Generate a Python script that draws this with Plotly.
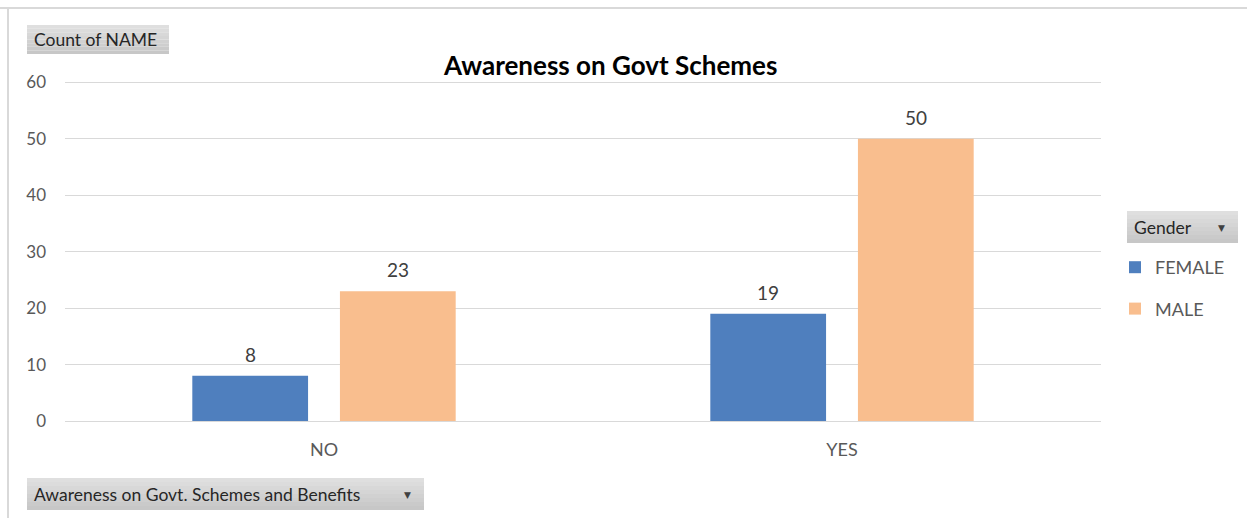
import plotly.graph_objects as go

# Pivot data: count of NAME by awareness answer and gender
categories = ["NO", "YES"]
female_counts = [8, 19]
male_counts = [23, 50]
y_ticks = [0, 10, 20, 30, 40, 50, 60]

W, H = 1247, 518
L, R, T, B = 65, 146, 79, 97          # plot area margins in px
PW, PH = W - L - R, H - T - B
Y_MAX = 60.6                           # headroom so the 60 gridline is drawn
BARGAP, GROUPGAP = 0.43, 0.216

FONT = "Lato"
TICK = "#595959"
LABEL = "#404040"
BLUE = "#4f7fbe"
ORANGE = "#f9be8e"


def px(x):
    return (x - L) / PW


def py(y):
    return (H - B - y) / PH


fig = go.Figure()
fig.add_trace(go.Bar(name="FEMALE", x=categories, y=female_counts,
                     marker=dict(color=BLUE, line=dict(width=0)),
                     legendgroup="f"))
fig.add_trace(go.Bar(name="MALE", x=categories, y=male_counts,
                     marker=dict(color=ORANGE, line=dict(width=0)),
                     legendgroup="m"))

annotations = []
shapes = []

# value labels above each bar
off = (1 - BARGAP) / 4
for i, cat in enumerate(categories):
    for val, d in ((female_counts[i], -off), (male_counts[i], off)):
        annotations.append(dict(x=i + d, y=val, xref="x", yref="y", text=str(val),
                                showarrow=False, yanchor="bottom", yshift=8,
                                font=dict(family=FONT, size=19, color=LABEL)))

# chart title
annotations.append(dict(x=px(610), y=py(65), xref="paper", yref="paper",
                        text="<b>Awareness on Govt Schemes</b>", showarrow=False,
                        xanchor="center", yanchor="middle",
                        font=dict(family=FONT, size=26, color="#000000")))


def field_button(x0, y0, x1, y1, label, arrow):
    """Grey pivot field button with a soft vertical gradient."""
    n = 8
    top, bot = 0xdf, 0xc7
    for k in range(n):
        c = round(top + (bot - top) * k / (n - 1))
        shapes.append(dict(type="rect", xref="paper", yref="paper",
                           x0=px(x0), x1=px(x1),
                           y0=py(y0 + (y1 - y0) * (k + 1) / n),
                           y1=py(y0 + (y1 - y0) * k / n),
                           fillcolor=f"rgb({c},{c},{c})", line=dict(width=0),
                           layer="below"))
    annotations.append(dict(x=px(x0 + 5), y=py((y0 + y1) / 2), xref="paper", yref="paper",
                            text=label, showarrow=False, xanchor="left", yanchor="middle",
                            font=dict(family=FONT, size=17.5, color="#262626")))
    if arrow:
        annotations.append(dict(x=px(x1 - 17), y=py((y0 + y1) / 2 + 1), xref="paper",
                                yref="paper", text="▼", showarrow=False,
                                xanchor="center", yanchor="middle",
                                font=dict(family="DejaVu Sans", size=9, color="#404040")))


field_button(27, 25, 169, 54, "Count of NAME", False)
field_button(1127, 211, 1238, 243, "Gender", True)
field_button(27, 478, 424, 510, "Awareness on Govt. Schemes and Benefits", True)

# outer frame lines (top and left)
shapes.append(dict(type="line", xref="paper", yref="paper",
                   x0=px(0), x1=px(W), y0=py(8), y1=py(8),
                   line=dict(color="#d9d9d9", width=2)))
shapes.append(dict(type="line", xref="paper", yref="paper",
                   x0=px(8), x1=px(8), y0=py(8), y1=py(H),
                   line=dict(color="#d9d9d9", width=2)))

fig.update_layout(
    width=W, height=H, autosize=False,
    margin=dict(l=L, r=R, t=T, b=B, pad=0),
    paper_bgcolor="white", plot_bgcolor="white",
    barmode="group", bargap=BARGAP, bargroupgap=GROUPGAP,
    font=dict(family=FONT, color=TICK),
    showlegend=True,
    legend=dict(x=px(1115), y=py(249), xanchor="left", yanchor="top",
                font=dict(family=FONT, size=18, color=TICK),
                tracegroupgap=15, bgcolor="rgba(0,0,0,0)"),
    xaxis=dict(showgrid=False, showline=False, zeroline=False, ticks="",
               ticklabelstandoff=16, tickfont=dict(family=FONT, size=18, color=TICK)),
    yaxis=dict(range=[0, Y_MAX], tickvals=y_ticks, showgrid=True, gridcolor="#d9d9d9",
               gridwidth=1, zeroline=True, zerolinecolor="#d9d9d9", zerolinewidth=1,
               showline=False, ticks="", ticklabelstandoff=18,
               tickfont=dict(family=FONT, size=17, color=TICK)),
    annotations=annotations, shapes=shapes,
)

fig.write_html("out.html")
